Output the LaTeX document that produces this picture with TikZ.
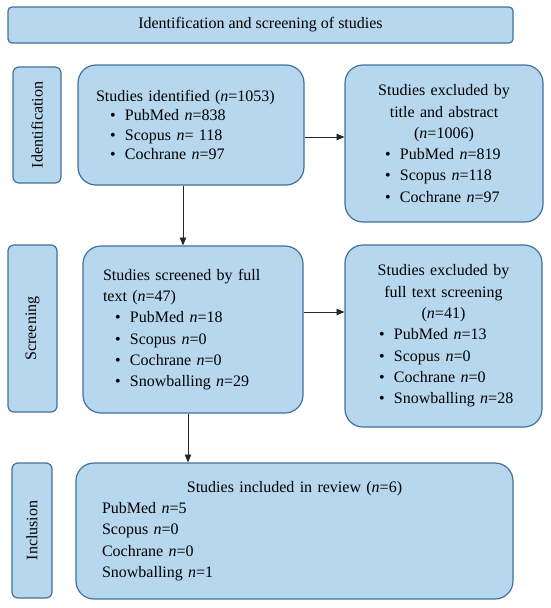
\documentclass[tikz,border=0pt]{standalone}
\usepackage{fontspec}
\setmainfont{Liberation Serif}
\usepackage{tikz}
\usetikzlibrary{arrows}
\definecolor{boxfill}{RGB}{182,215,238}
\definecolor{boxline}{RGB}{65,113,156}
\tikzstyle{arr} = [-triangle 45, line width=0.8pt, draw=black!85]
\tikzstyle{blk} = [draw=boxline, fill=boxfill, line width=1.2pt, inner sep=0pt, align=left, font=\fontsize{16}{21.3}\selectfont]
\tikzstyle{side} = [blk, rounded corners=6pt, rotate=90, align=center]
\newcommand{\bul}[2]{\hspace*{#1pt}\makebox[15pt][l]{\textbullet}#2}

\begin{document}
\begin{tikzpicture}[x=1pt,y=-1pt]
			\useasboundingbox (0,0) rectangle (550,608);
			\node[blk, rounded corners=4pt, align=center, minimum width=505pt, minimum height=36pt] (title) at (260.5,25) {Identification and screening of studies};
			\node[side, minimum width=116pt, minimum height=48pt] (sideid) at (37,125) {Identification};
			\node[side, minimum width=167pt, minimum height=49pt] (sidescr) at (32.5,328.5) {Screening};
			\node[side, minimum width=135pt, minimum height=40pt] (sideinc) at (32,530.5) {Inclusion};
			\node[blk, rounded corners=18pt, text width=226pt, minimum height=120pt, font=\fontsize{16}{19.5}\selectfont] (ident) at (191,125) {\hspace*{18pt}Studies identified (\textit{n}=1053)\\
				\bul{32}{PubMed \textit{n}=838}\\
				\bul{32}{Scopus \textit{n}= 118}\\
				\bul{32}{Cochrane \textit{n}=97}};
			\node[blk, rounded corners=18pt, text width=198pt, minimum height=157pt] (excl1) at (444,143.5) {\makebox[198pt]{Studies excluded by}\\
				\makebox[198pt]{title and abstract}\\
				\makebox[198pt]{(\textit{n}=1006)}\\
				\bul{40}{PubMed \textit{n}=819}\\
				\bul{40}{Scopus \textit{n}=118}\\
				\bul{40}{Cochrane \textit{n}=97}};
			\node[blk, rounded corners=18pt, text width=220pt, minimum height=167pt] (scr) at (193,329.5) {\hspace*{20pt}Studies screened by full\\
				\hspace*{20pt}text (\textit{n}=47)\\
				\bul{32}{PubMed \textit{n}=18}\\
				\bul{32}{Scopus \textit{n}=0}\\
				\bul{32}{Cochrane \textit{n}=0}\\
				\bul{32}{Snowballing \textit{n}=29}};
			\node[blk, rounded corners=18pt, text width=197pt, minimum height=182pt] (excl2) at (443.5,336) {\makebox[197pt]{Studies excluded by}\\
				\makebox[197pt]{full text screening}\\
				\makebox[197pt]{(\textit{n}=41)}\\
				\bul{34}{PubMed \textit{n}=13}\\
				\bul{34}{Scopus \textit{n}=0}\\
				\bul{34}{Cochrane \textit{n}=0}\\
				\bul{34}{Snowballing \textit{n}=28}};
			\node[blk, rounded corners=18pt, text width=437pt, minimum height=136pt] (incl) at (294.5,531) {\makebox[437pt]{Studies included in review (\textit{n}=6)}\\
				\hspace*{26pt}PubMed \textit{n}=5\\
				\hspace*{26pt}Scopus \textit{n}=0\\
				\hspace*{26pt}Cochrane \textit{n}=0\\
				\hspace*{26pt}Snowballing \textit{n}=1};
			\draw[arr] ([yshift=-12pt]ident.east) -- ([yshift=-12pt]ident.east -| excl1.west);
			\draw[arr] ([xshift=-8pt]ident.south) -- ([xshift=-8pt]ident.south |- scr.north);
			\draw[arr] ([yshift=17.5pt]scr.east) -- ([yshift=17.5pt]scr.east -| excl2.west);
			\draw[arr] ([xshift=-5pt]scr.south) -- ([xshift=-5pt]scr.south |- incl.north);
		\end{tikzpicture}
\end{document}
